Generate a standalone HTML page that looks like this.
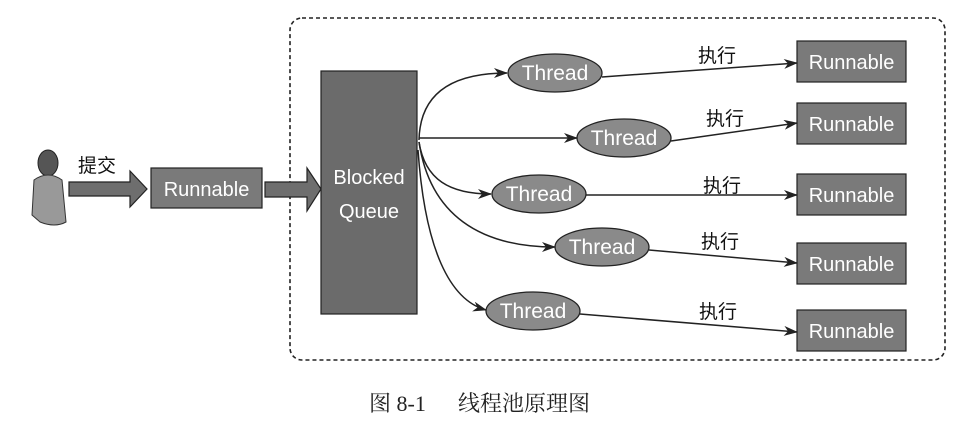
<!DOCTYPE html>
<html><head><meta charset="utf-8"><style>
html,body{margin:0;padding:0;background:#fff;}
svg{display:block;}
</style></head><body>
<svg width="972" height="425" viewBox="0 0 972 425" xmlns="http://www.w3.org/2000/svg">
<defs>
<marker id="ah" markerWidth="14" markerHeight="10" refX="13" refY="5" orient="auto" markerUnits="userSpaceOnUse">
<path d="M0,0 L14,5 L0,10 L4,5 Z" fill="#222"/>
</marker>
</defs>
<rect x="290" y="18" width="655" height="342" rx="12" fill="none" stroke="#222" stroke-width="1.6" stroke-dasharray="4,3"/>
<ellipse cx="48" cy="163" rx="10" ry="13" fill="#555" stroke="#222"/>
<path d="M34,180 Q48,170 62,180 L66,222 Q55,228 40,222 L32,215 Z" fill="#999" stroke="#333"/>
<text x="78" y="172" font-family="Liberation Sans, Noto Sans CJK SC, sans-serif" font-size="19" fill="#111">提交</text>
<path d="M69,182 L130,182 L130,171 L147,189 L130,207 L130,196 L69,196 Z" fill="#6e6e6e" stroke="#222" stroke-width="1.2"/>
<rect x="151" y="168" width="111" height="40" fill="#7a7a7a" stroke="#222" stroke-width="1.2"/>
<text x="206.5" y="196" text-anchor="middle" font-family="Liberation Sans, sans-serif" font-size="20" fill="#fff">Runnable</text>
<path d="M265,182 L307,182 L307,168 L321,189 L307,211 L307,197 L265,197 Z" fill="#6e6e6e" stroke="#222" stroke-width="1.2"/>
<rect x="321" y="71" width="96" height="243" fill="#6b6b6b" stroke="#222" stroke-width="1.2"/>
<text x="369" y="184" text-anchor="middle" font-family="Liberation Sans, sans-serif" font-size="20" fill="#fff">Blocked</text>
<text x="369" y="218" text-anchor="middle" font-family="Liberation Sans, sans-serif" font-size="20" fill="#fff">Queue</text>
<g fill="none" stroke="#222" stroke-width="1.5" marker-end="url(#ah)">
<path d="M419,140 C420,95 450,73 507,73"/>
<path d="M419,138 L577,138"/>
<path d="M419,142 C425,180 450,194 491,194"/>
<path d="M419,142 C430,215 480,247 555,247"/>
<path d="M418,150 C425,250 450,300 486,310"/>
</g>
<g fill="#8a8a8a" stroke="#222" stroke-width="1.3">
<ellipse cx="555" cy="73" rx="47" ry="19"/>
<ellipse cx="624" cy="138" rx="47" ry="19"/>
<ellipse cx="539" cy="194" rx="47" ry="19"/>
<ellipse cx="602" cy="247" rx="47" ry="19"/>
<ellipse cx="533" cy="311" rx="47" ry="19"/>
</g>
<g font-family="Liberation Sans, sans-serif" font-size="21" fill="#fff" text-anchor="middle">
<text x="555" y="80">Thread</text>
<text x="624" y="145">Thread</text>
<text x="539" y="201">Thread</text>
<text x="602" y="254">Thread</text>
<text x="533" y="318">Thread</text>
</g>
<g fill="none" stroke="#222" stroke-width="1.5" marker-end="url(#ah)">
<path d="M602,77 L797,63"/>
<path d="M671,141 L797,123"/>
<path d="M586,195 L797,195"/>
<path d="M649,250 L797,263"/>
<path d="M580,314 L797,332"/>
</g>
<g font-family="Liberation Sans, Noto Sans CJK SC, sans-serif" font-size="19" fill="#111" text-anchor="middle">
<text x="717" y="62">执行</text>
<text x="725" y="125">执行</text>
<text x="722" y="192">执行</text>
<text x="720" y="248">执行</text>
<text x="718" y="318">执行</text>
</g>
<g fill="#7a7a7a" stroke="#222" stroke-width="1.2">
<rect x="797" y="41" width="109" height="41"/>
<rect x="797" y="103" width="109" height="41"/>
<rect x="797" y="174" width="109" height="41"/>
<rect x="797" y="243" width="109" height="41"/>
<rect x="797" y="310" width="109" height="41"/>
</g>
<g font-family="Liberation Sans, sans-serif" font-size="20" fill="#fff" text-anchor="middle">
<text x="851.5" y="69">Runnable</text>
<text x="851.5" y="131">Runnable</text>
<text x="851.5" y="202">Runnable</text>
<text x="851.5" y="271">Runnable</text>
<text x="851.5" y="338">Runnable</text>
</g>
<text x="369" y="411" font-family="Liberation Serif, Noto Serif CJK SC, serif" font-size="22" fill="#222">图 8-1</text>
<text x="458" y="411" font-family="Liberation Serif, Noto Serif CJK SC, serif" font-size="22" fill="#222">线程池原理图</text>
</svg>
</body></html>
